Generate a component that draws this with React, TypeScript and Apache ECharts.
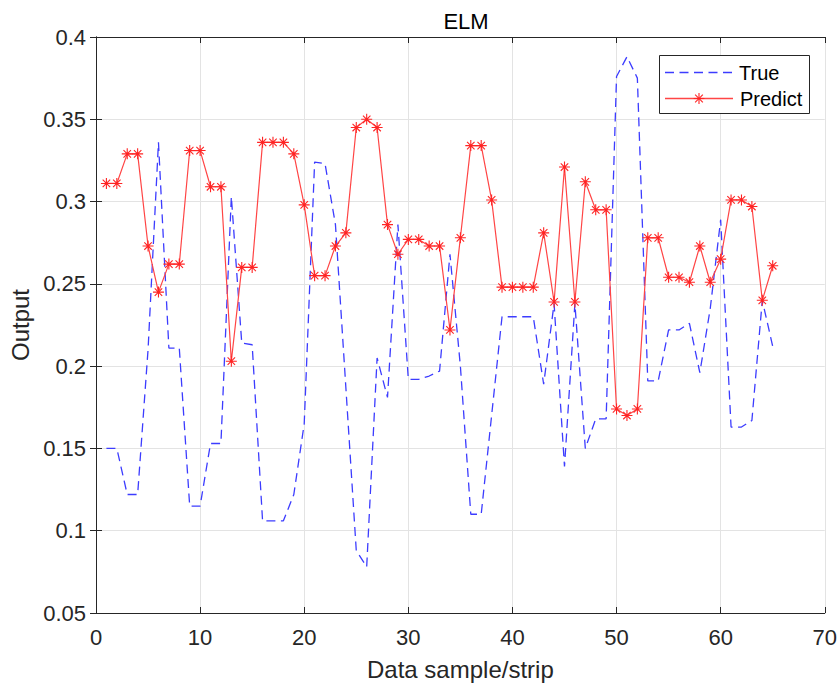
import React, { useEffect, useRef } from "react";
import * as echarts from "echarts";

const xValues = [
  1, 2, 3, 4, 5, 6, 7, 8, 9, 10, 11, 12, 13, 14, 15, 16, 17, 18, 19, 20, 21, 22,
  23, 24, 25, 26, 27, 28, 29, 30, 31, 32, 33, 34, 35, 36, 37, 38, 39, 40, 41, 42,
  43, 44, 45, 46, 47, 48, 49, 50, 51, 52, 53, 54, 55, 56, 57, 58, 59, 60, 61, 62,
  63, 64, 65,
];

const trueValues = [
  0.15, 0.15, 0.122, 0.122, 0.21, 0.336, 0.211, 0.211, 0.115, 0.115, 0.153,
  0.153, 0.303, 0.214, 0.213, 0.106, 0.106, 0.106, 0.122, 0.165, 0.324, 0.323,
  0.286, 0.187, 0.088, 0.078, 0.205, 0.181, 0.286, 0.192, 0.192, 0.194, 0.197,
  0.268, 0.2, 0.11, 0.11, 0.17, 0.23, 0.23, 0.23, 0.23, 0.189, 0.238, 0.139,
  0.238, 0.15, 0.168, 0.168, 0.376, 0.388, 0.375, 0.191, 0.191, 0.222, 0.222,
  0.226, 0.196, 0.235, 0.289, 0.163, 0.163, 0.167, 0.24, 0.212,
];

const predictValues = [
  0.311, 0.311, 0.329, 0.329, 0.273, 0.245, 0.262, 0.262, 0.331, 0.331, 0.309,
  0.309, 0.203, 0.26, 0.26, 0.336, 0.336, 0.336, 0.329, 0.298, 0.255, 0.255,
  0.273, 0.281, 0.345, 0.35, 0.345, 0.286, 0.268, 0.277, 0.277, 0.273, 0.273,
  0.222, 0.278, 0.334, 0.334, 0.301, 0.248, 0.248, 0.248, 0.248, 0.281, 0.239,
  0.321, 0.239, 0.312, 0.295, 0.295, 0.174, 0.17, 0.174, 0.278, 0.278, 0.254,
  0.254, 0.251, 0.273, 0.251, 0.265, 0.301, 0.301, 0.297, 0.24, 0.261,
];

const legendNames = ["True", "Predict"];
const xTicks = { min: 0, max: 70, interval: 10 };
const yTicks = { min: 0.05, max: 0.4, interval: 0.05 };

const ASTERISK =
  "path://M5,0 L5,10 M0,5 L10,5 M1.6,1.6 L8.4,8.4 M1.6,8.4 L8.4,1.6";

const BLUE = "#3c3cff";
const RED_LINE = "#ff4545";
const RED_MARK = "#ff2424";
const DASH = [9, 5.5];

function asteriskLines(cx: number, cy: number, r: number, color: string) {
  const d = r * 0.7;
  const segs = [
    [cx, cy - r, cx, cy + r],
    [cx - r, cy, cx + r, cy],
    [cx - d, cy - d, cx + d, cy + d],
    [cx - d, cy + d, cx + d, cy - d],
  ];
  return segs.map(([x1, y1, x2, y2]) => ({
    type: "line",
    shape: { x1, y1, x2, y2 },
    style: { stroke: color, lineWidth: 1.1 },
    z: 102,
  }));
}

export default function App() {
  const ref = useRef<HTMLDivElement>(null);

  useEffect(() => {
    if (!ref.current) return;
    const chart = echarts.init(ref.current, null, { renderer: "svg" });
    const font = "'Liberation Sans', Arial, sans-serif";
    const axisColor = "#262626";
    const fmt = (v: number) => String(+Number(v).toFixed(2));

    const legendGraphic = [
      {
        type: "rect",
        shape: { x: 659.5, y: 55.5, width: 150, height: 58 },
        style: { fill: "#ffffff", stroke: axisColor, lineWidth: 1 },
        z: 100,
      },
      {
        type: "line",
        shape: { x1: 665, y1: 72.5, x2: 732, y2: 72.5 },
        style: { stroke: BLUE, lineWidth: 1.3, lineDash: DASH },
        z: 101,
      },
      {
        type: "text",
        style: {
          text: legendNames[0],
          x: 739,
          y: 73,
          fill: "#000000",
          font: `20px ${font}`,
          textVerticalAlign: "middle",
          verticalAlign: "middle",
        },
        z: 101,
      },
      {
        type: "line",
        shape: { x1: 665, y1: 98.5, x2: 733, y2: 98.5 },
        style: { stroke: RED_LINE, lineWidth: 1.3 },
        z: 101,
      },
      ...asteriskLines(699, 98.5, 5.5, RED_MARK),
      {
        type: "text",
        style: {
          text: legendNames[1],
          x: 740,
          y: 99,
          fill: "#000000",
          font: `20px ${font}`,
          textVerticalAlign: "middle",
          verticalAlign: "middle",
        },
        z: 101,
      },
    ];

    chart.setOption({
      animation: false,
      backgroundColor: "#ffffff",
      textStyle: { fontFamily: font },
      title: {
        text: "ELM",
        left: 461,
        top: 5,
        textAlign: "center",
        textStyle: {
          fontFamily: font,
          fontSize: 22,
          fontWeight: "normal",
          color: "#000000",
        },
      },
      grid: { left: 96, right: 13, top: 37, bottom: 72, containLabel: false },
      graphic: legendGraphic,
      xAxis: [
        {
          type: "value",
          min: xTicks.min,
          max: xTicks.max,
          interval: xTicks.interval,
          name: "Data sample/strip",
          nameLocation: "middle",
          nameGap: 44,
          nameTextStyle: { fontFamily: font, fontSize: 24, color: axisColor },
          axisLine: { show: true, lineStyle: { color: axisColor, width: 1 } },
          axisTick: { show: true, inside: true, length: 6, lineStyle: { color: axisColor } },
          axisLabel: { fontFamily: font, fontSize: 22, color: axisColor, margin: 13 },
          splitLine: { show: true, lineStyle: { color: "#e3e3e3", width: 1 } },
        },
        {
          type: "value",
          position: "top",
          min: xTicks.min,
          max: xTicks.max,
          interval: xTicks.interval,
          axisLine: { show: true, lineStyle: { color: axisColor, width: 1 } },
          axisTick: { show: true, inside: true, length: 6, lineStyle: { color: axisColor } },
          axisLabel: { show: false },
          splitLine: { show: false },
        },
      ],
      yAxis: [
        {
          type: "value",
          min: yTicks.min,
          max: yTicks.max,
          interval: yTicks.interval,
          name: "Output",
          nameLocation: "middle",
          nameGap: 62,
          nameTextStyle: { fontFamily: font, fontSize: 24, color: axisColor },
          axisLine: { show: true, lineStyle: { color: axisColor, width: 1 } },
          axisTick: { show: true, inside: true, length: 6, lineStyle: { color: axisColor } },
          axisLabel: {
            fontFamily: font,
            fontSize: 22,
            color: axisColor,
            margin: 10,
            formatter: fmt,
          },
          splitLine: { show: true, lineStyle: { color: "#e3e3e3", width: 1 } },
        },
        {
          type: "value",
          position: "right",
          min: yTicks.min,
          max: yTicks.max,
          interval: yTicks.interval,
          axisLine: { show: true, lineStyle: { color: axisColor, width: 1 } },
          axisTick: { show: true, inside: true, length: 6, lineStyle: { color: axisColor } },
          axisLabel: { show: false },
          splitLine: { show: false },
        },
      ],
      series: [
        {
          name: legendNames[0],
          type: "line",
          xAxisIndex: 0,
          yAxisIndex: 0,
          data: xValues.map((x, i) => [x, trueValues[i]]),
          showSymbol: false,
          symbol: "none",
          lineStyle: { color: BLUE, width: 1.3, type: DASH },
          itemStyle: { color: BLUE },
          z: 2,
        },
        {
          name: legendNames[1],
          type: "line",
          xAxisIndex: 0,
          yAxisIndex: 0,
          data: xValues.map((x, i) => [x, predictValues[i]]),
          symbol: ASTERISK,
          symbolSize: 11,
          showSymbol: true,
          lineStyle: { color: RED_LINE, width: 1.2 },
          itemStyle: {
            color: "rgba(0,0,0,0)",
            borderColor: RED_MARK,
            borderWidth: 1.1,
          },
          z: 3,
        },
      ],
    });

    return () => chart.dispose();
  }, []);

  return (
    <div
      ref={ref}
      style={{ position: "fixed", left: 0, top: 0, width: 840, height: 686 }}
    />
  );
}
